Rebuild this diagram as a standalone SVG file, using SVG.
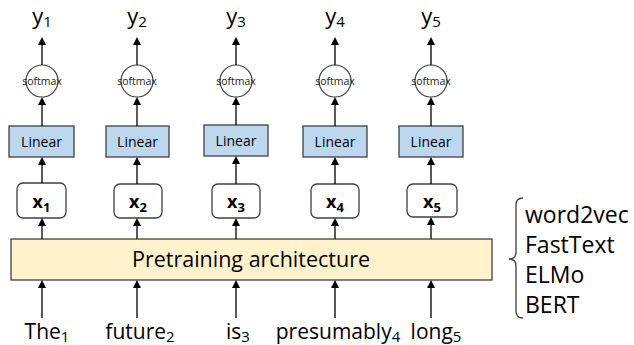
<svg xmlns="http://www.w3.org/2000/svg" width="634" height="345" viewBox="0 0 634 345">
<defs>
<marker id="ah" markerWidth="8" markerHeight="8" refX="4" refY="4" orient="auto" markerUnits="userSpaceOnUse">
<path d="M0,0 L8,4 L0,8 Z" fill="#000"/>
</marker>
<style>
text{font-family:"Open Sans","Liberation Sans",sans-serif;fill:#000}
.lin{fill:#BDD7EE;stroke:#404040;stroke-width:1.3}
.xb{fill:#fff;stroke:#404040;stroke-width:1.3}
.sm{fill:#fff;stroke:#404040;stroke-width:1.2}
.c{stroke:#000;stroke-width:1.3;fill:none;marker-end:url(#ah)}
.y{font-size:22px}
.lt{font-size:14px;text-anchor:middle}
.st{font-size:10.5px;text-anchor:middle;fill:#222}
.xt{font-size:18px;font-weight:bold}
.w{font-size:21px}
.r{font-size:23px}
</style>
</defs>
<g id="pretrain">
<rect x="11" y="239" width="481" height="41" fill="#FFF2CC" stroke="#404040" stroke-width="1.3"/>
<text x="251" y="267" text-anchor="middle" style="font-size:21.5px">Pretraining architecture</text>
</g>
<g id="col1">
<rect class="lin" x="9" y="126" width="65" height="31"/><text class="lt" x="41.5" y="146.5">Linear</text>
<circle class="sm" cx="42" cy="81" r="16"/><text class="st" x="42" y="84.5">softmax</text>
<rect class="xb" x="17" y="183" width="49" height="35" rx="6"/><text class="xt" x="41.5" y="208" text-anchor="middle">x<tspan font-size="13" dy="4">1</tspan></text>
<text class="y" x="42" y="24" text-anchor="middle">y<tspan font-size="15" dy="3">1</tspan></text>
<text class="w" x="47" y="339" text-anchor="middle">The<tspan font-size="15" dy="3">1</tspan></text>
</g>
<g id="col2">
<rect class="lin" x="106" y="126" width="63" height="31"/><text class="lt" x="137.5" y="146.5">Linear</text>
<circle class="sm" cx="137" cy="81" r="16"/><text class="st" x="137" y="84.5">softmax</text>
<rect class="xb" x="114" y="184" width="48" height="34" rx="6"/><text class="xt" x="138" y="208" text-anchor="middle">x<tspan font-size="13" dy="4">2</tspan></text>
<text class="y" x="137" y="24" text-anchor="middle">y<tspan font-size="15" dy="3">2</tspan></text>
<text class="w" x="140" y="339" text-anchor="middle">future<tspan font-size="15" dy="3">2</tspan></text>
</g>
<g id="col3">
<rect class="lin" x="204" y="125" width="64" height="31"/><text class="lt" x="236" y="145.5">Linear</text>
<circle class="sm" cx="236" cy="81" r="16"/><text class="st" x="236" y="84.5">softmax</text>
<rect class="xb" x="212" y="184" width="48" height="34" rx="6"/><text class="xt" x="236" y="208" text-anchor="middle">x<tspan font-size="13" dy="4">3</tspan></text>
<text class="y" x="236" y="24" text-anchor="middle">y<tspan font-size="15" dy="3">3</tspan></text>
<text class="w" x="238" y="339" text-anchor="middle">is<tspan font-size="15" dy="3">3</tspan></text>
</g>
<g id="col4">
<rect class="lin" x="303" y="126" width="64" height="31"/><text class="lt" x="335" y="146.5">Linear</text>
<circle class="sm" cx="335" cy="81" r="16"/><text class="st" x="335" y="84.5">softmax</text>
<rect class="xb" x="311" y="184" width="48" height="34" rx="6"/><text class="xt" x="335" y="208" text-anchor="middle">x<tspan font-size="13" dy="4">4</tspan></text>
<text class="y" x="335" y="24" text-anchor="middle">y<tspan font-size="15" dy="3">4</tspan></text>
<text class="w" x="338" y="339" text-anchor="middle">presumably<tspan font-size="15" dy="3">4</tspan></text>
</g>
<g id="col5">
<rect class="lin" x="399" y="126" width="64" height="31"/><text class="lt" x="431" y="146.5">Linear</text>
<circle class="sm" cx="431" cy="81" r="16"/><text class="st" x="431" y="84.5">softmax</text>
<rect class="xb" x="407" y="184" width="50" height="33" rx="6"/><text class="xt" x="432" y="208" text-anchor="middle">x<tspan font-size="13" dy="4">5</tspan></text>
<text class="y" x="431" y="24" text-anchor="middle">y<tspan font-size="15" dy="3">5</tspan></text>
<text class="w" x="436" y="339" text-anchor="middle">long<tspan font-size="15" dy="3">5</tspan></text>
</g>
<g id="connectors">
<path class="c" d="M42,65 V41"/><path class="c" d="M137,65 V41"/><path class="c" d="M236,65 V41"/><path class="c" d="M335,65 V41"/><path class="c" d="M431,65 V41"/>
<path class="c" d="M42,126 V101"/><path class="c" d="M137,126 V101"/><path class="c" d="M236,125 V101"/><path class="c" d="M335,126 V101"/><path class="c" d="M431,126 V101"/>
<path class="c" d="M42,183 V161"/><path class="c" d="M137,184 V161"/><path class="c" d="M236,184 V160"/><path class="c" d="M335,184 V161"/><path class="c" d="M431,184 V161"/>
<path class="c" d="M42,239 V222"/><path class="c" d="M137,239 V222"/><path class="c" d="M236,239 V222"/><path class="c" d="M335,239 V222"/><path class="c" d="M431,239 V221"/>
<path class="c" d="M42,318 V284"/><path class="c" d="M137,318 V284"/><path class="c" d="M236,318 V284"/><path class="c" d="M335,318 V284"/><path class="c" d="M431,318 V284"/>
</g>
<g id="models">
<path d="M523,198 Q516,198 516,205 V252 Q516,259 509,259 Q516,259 516,266 V311 Q516,318 523,318" fill="none" stroke="#404040" stroke-width="1.3"/>
<text class="r" x="525" y="223">word2vec</text>
<text class="r" x="525" y="253">FastText</text>
<text class="r" x="525" y="283">ELMo</text>
<text class="r" x="525" y="313">BERT</text>
</g>
</svg>
